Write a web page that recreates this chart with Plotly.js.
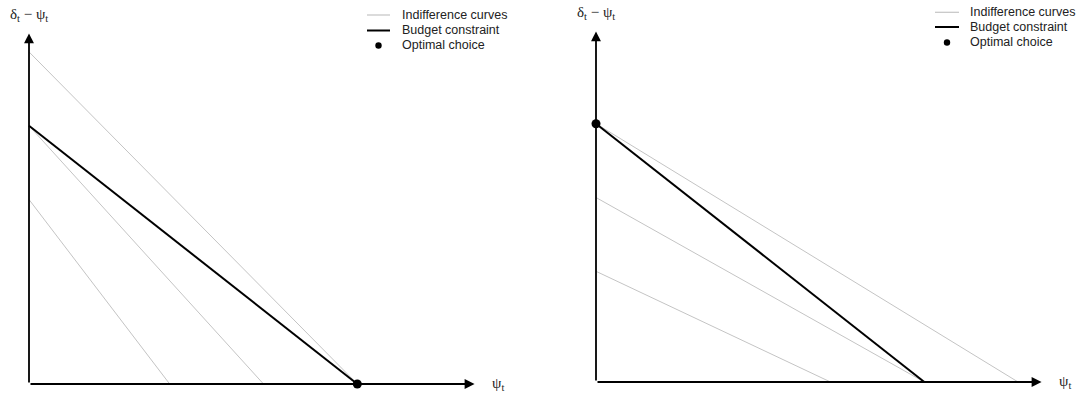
<!DOCTYPE html>
<html>
<head>
<meta charset="utf-8">
<script src="https://cdn.plot.ly/plotly-3.0.1.min.js"></script>
<style>html,body{margin:0;padding:0;background:#fff;}#chart{width:1089px;height:398px;}</style>
</head>
<body>
<div id="chart"></div>
<script>
// ---- data ----
const axisMax = 9.5;
const budgetX = [0, 7];
const budgetY = [7, 0];
// left panel: corner solution on the psi axis
const leftIndiffStartY = [5, 7, 9];
const leftIndiffEndX = [3, 5, 7];
const leftOptimalX = [7];
const leftOptimalY = [0];
// right panel: corner solution on the delta-psi axis
const rightIndiffStartY = [3, 5, 7];
const rightIndiffEndX = [5, 7, 9];
const rightOptimalX = [0];
const rightOptimalY = [7];
const legendLabels = ['Indifference curves', 'Budget constraint', 'Optimal choice'];
const xLabel = 'ψ<sub>t</sub>';
const yLabel = 'δ<sub>t</sub> − ψ<sub>t</sub>';

// ---- styling ----
const W = 1089, H = 398;
const GRAY = '#c4c4c4';
const SERIF = 'Liberation Serif, Times New Roman, serif';
const SANS = 'Liberation Sans, Arial, sans-serif';

const traces = [];
function panel(startY, endX, optX, optY, xa, ya) {
  for (let i = 0; i < startY.length; i++) {
    traces.push({x: [0, endX[i]], y: [startY[i], 0], xaxis: xa, yaxis: ya, mode: 'lines',
      line: {color: GRAY, width: 1}, hoverinfo: 'skip', showlegend: false});
  }
  traces.push({x: budgetX, y: budgetY, xaxis: xa, yaxis: ya, mode: 'lines',
    line: {color: '#000', width: 2}, hoverinfo: 'skip', showlegend: false});
  traces.push({x: optX, y: optY, xaxis: xa, yaxis: ya, mode: 'markers', cliponaxis: false,
    marker: {color: '#000', size: 9}, hoverinfo: 'skip', showlegend: false});
}
panel(leftIndiffStartY, leftIndiffEndX, leftOptimalX, leftOptimalY, 'x', 'y');
panel(rightIndiffStartY, rightIndiffEndX, rightOptimalX, rightOptimalY, 'x2', 'y2');

const annotations = [];
const shapes = [];
function axesArrows(xr, yr) {
  const common = {text: '', showarrow: true, arrowhead: 2, arrowsize: 1.1, arrowwidth: 1.8,
    arrowcolor: '#000', standoff: 0, xref: xr, yref: yr, axref: xr, ayref: yr};
  annotations.push(Object.assign({}, common, {x: axisMax, y: 0, ax: 0, ay: 0}));
  annotations.push(Object.assign({}, common, {x: 0, y: axisMax, ax: 0, ay: 0}));
  annotations.push({text: xLabel, x: 10, y: 0, xref: xr, yref: yr, showarrow: false,
    xanchor: 'center', yanchor: 'middle', font: {family: SERIF, size: 15, color: '#222'}});
  annotations.push({text: yLabel, x: 0, y: 10, xref: xr, yref: yr, showarrow: false,
    xanchor: 'center', yanchor: 'middle', font: {family: SERIF, size: 15, color: '#222'}});
}
axesArrows('x', 'y');
axesArrows('x2', 'y2');

// manual legends (pixel placement converted to paper coords)
const px = v => v / W, py = v => 1 - v / H;
function legend(lineX0, lineX1, textX, rows) {
  shapes.push({type: 'line', xref: 'paper', yref: 'paper', x0: px(lineX0), x1: px(lineX1),
    y0: py(rows[0]), y1: py(rows[0]), line: {color: GRAY, width: 1.2}});
  shapes.push({type: 'line', xref: 'paper', yref: 'paper', x0: px(lineX0), x1: px(lineX1),
    y0: py(rows[1]), y1: py(rows[1]), line: {color: '#000', width: 2}});
  const cx = (lineX0 + lineX1) / 2, r = 3.2;
  shapes.push({type: 'circle', xref: 'paper', yref: 'paper', x0: px(cx - r), x1: px(cx + r),
    y0: py(rows[2] + r), y1: py(rows[2] - r), fillcolor: '#000', line: {width: 0}});
  for (let i = 0; i < 3; i++) {
    annotations.push({text: legendLabels[i], xref: 'paper', yref: 'paper', x: px(textX), y: py(rows[i]),
      xanchor: 'left', yanchor: 'middle', showarrow: false,
      font: {family: SANS, size: 12.5, color: '#222'}});
  }
}
legend(367, 390, 400, [15, 30.5, 45.5]);
legend(935, 959, 968, [12.3, 27, 42.5]);

const sx = 46.9, sy = 36.9;
const hidden = {visible: false, showgrid: false, zeroline: false, fixedrange: true};
const layout = {
  width: W, height: H, margin: {l: 0, r: 0, t: 0, b: 0, pad: 0},
  paper_bgcolor: '#fff', plot_bgcolor: '#fff', showlegend: false,
  xaxis: Object.assign({}, hidden, {domain: [0, 0.5], range: [-29 / sx, (544.5 - 29) / sx]}),
  yaxis: Object.assign({}, hidden, {domain: [0, 1], range: [-(H - 384) / sy, 384 / sy], anchor: 'x'}),
  xaxis2: Object.assign({}, hidden, {domain: [0.5, 1], range: [-(596 - 544.5) / sx, (W - 596) / sx], anchor: 'y2'}),
  yaxis2: Object.assign({}, hidden, {domain: [0, 1], range: [-(H - 382) / sy, 382 / sy], anchor: 'x2'}),
  annotations: annotations,
  shapes: shapes
};
Plotly.newPlot('chart', traces, layout, {staticPlot: true, displayModeBar: false});
</script>
</body>
</html>
